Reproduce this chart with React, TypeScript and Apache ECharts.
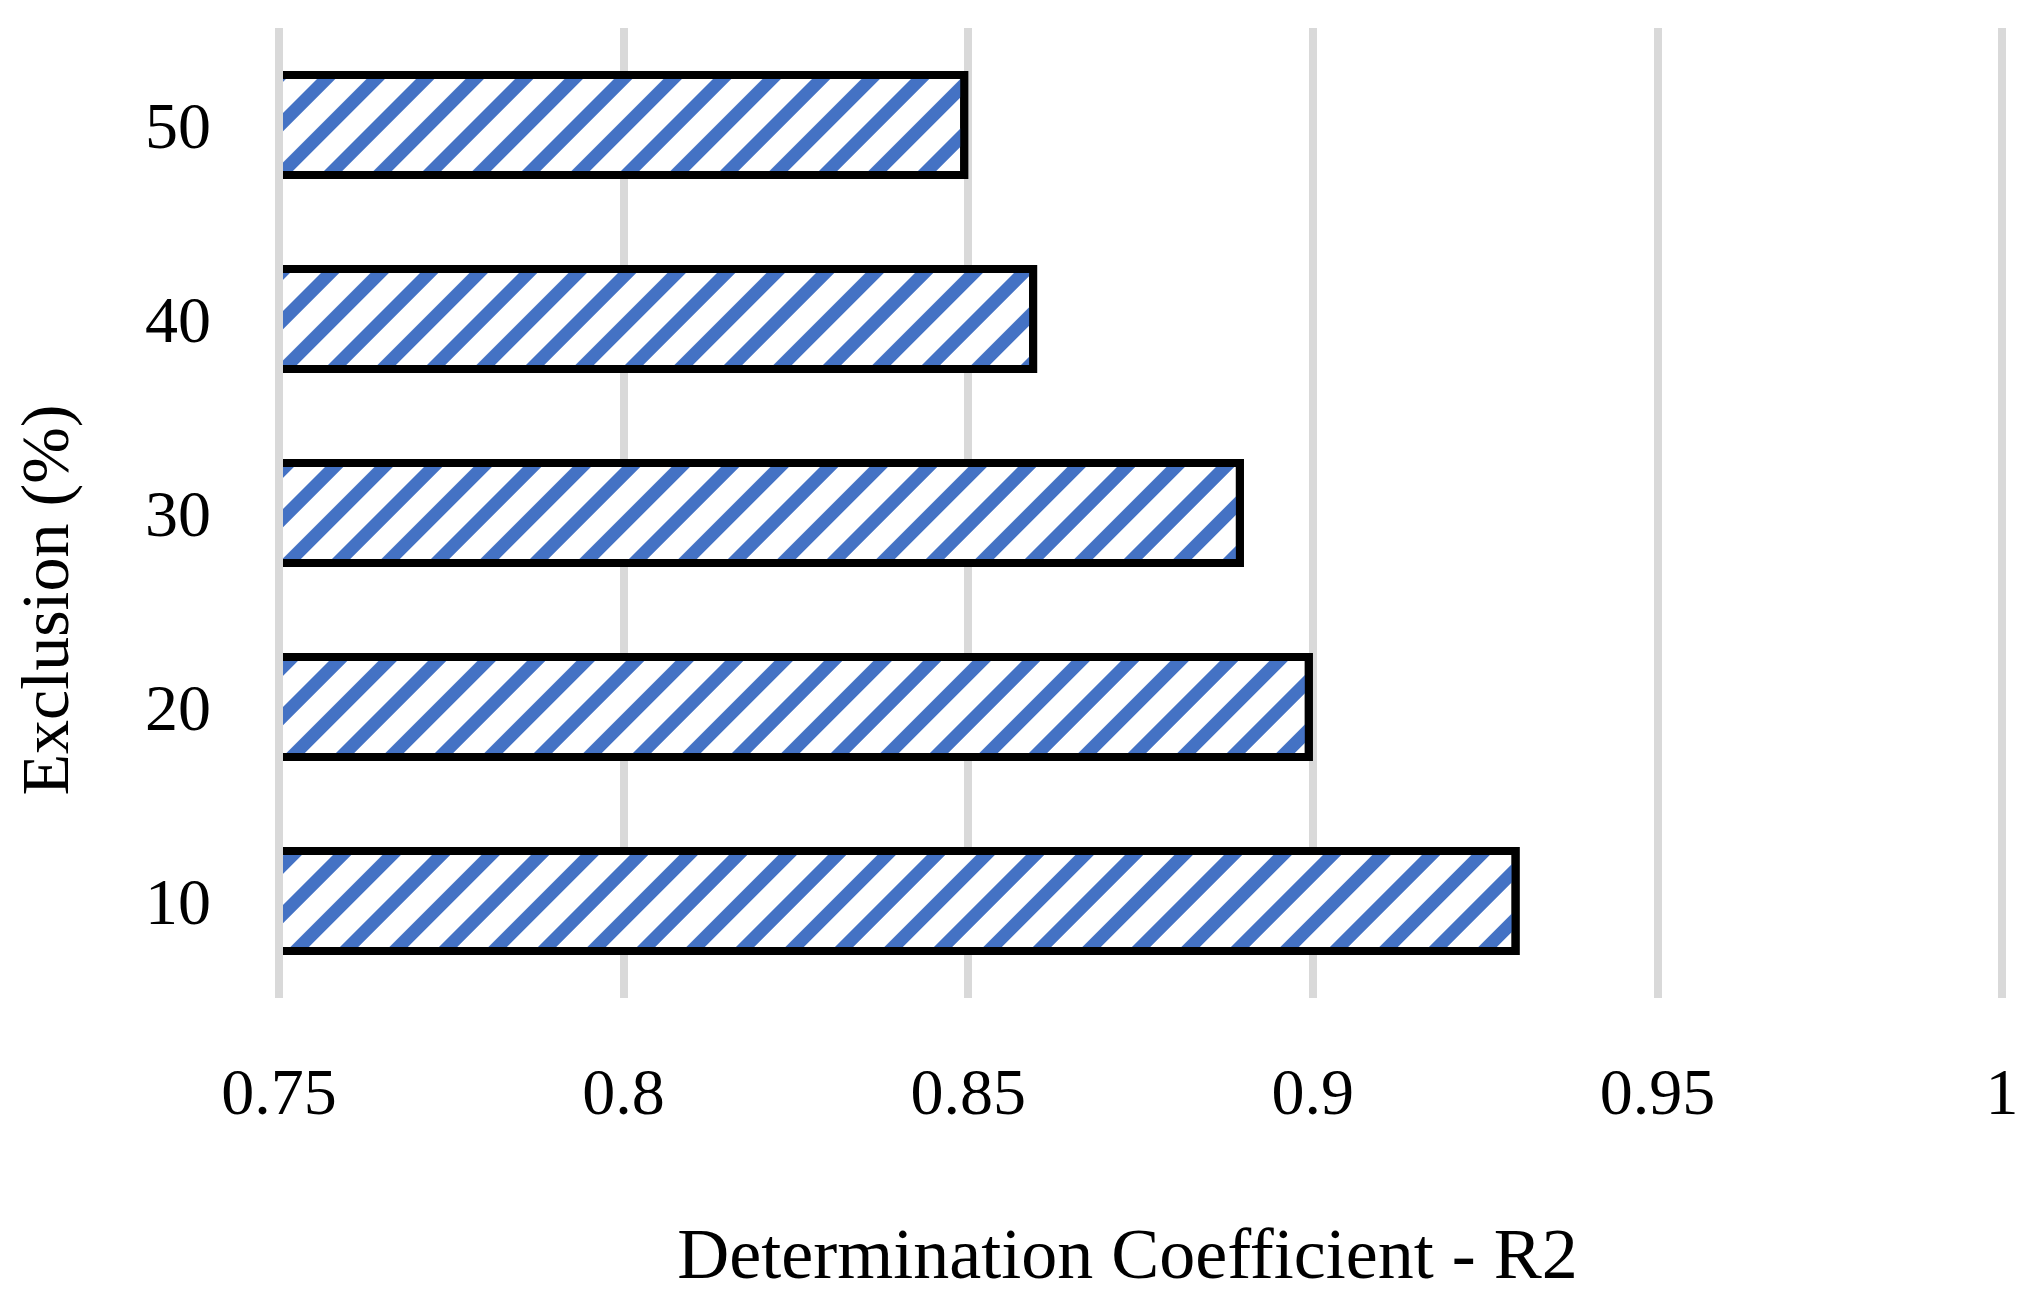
import React, { useEffect, useRef } from "react";
import * as echarts from "echarts";

const categories = ["10", "20", "30", "40", "50"];
const r2Values = [0.93, 0.9, 0.89, 0.86, 0.85];
const xTickLabels = ["0.75", "0.8", "0.85", "0.9", "0.95", "1"];
const xMin = 0.75;
const xMax = 1;
const xStep = 0.05;

const FONT = '"Liberation Serif", "Times New Roman", serif';

export default function App() {
  const ref = useRef<HTMLDivElement>(null);

  useEffect(() => {
    if (!ref.current) return;
    const chart = echarts.init(ref.current, null, { renderer: "svg" });
    chart.setOption({
      animation: false,
      backgroundColor: "#ffffff",
      grid: { left: 279, right: 42, top: 28, bottom: 304, containLabel: false },
      xAxis: [
        {
          type: "value",
          min: xMin,
          max: xMax,
          interval: xStep,
          axisLine: { show: false },
          axisTick: { show: false },
          splitLine: { show: true, lineStyle: { color: "#D9D9D9", width: 8 } },
          axisLabel: {
            margin: 60,
            fontSize: 66,
            fontFamily: FONT,
            color: "#000",
            formatter: (v: number) => xTickLabels[Math.round((v - xMin) / xStep)] ?? "",
          },
          name: "Determination Coefficient - R2",
          nameLocation: "middle",
          nameGap: 220,
          nameTextStyle: { fontSize: 72, fontFamily: FONT, color: "#000", padding: [0, 26, 0, 0] },
        },
        {
          type: "value",
          position: "top",
          min: xMin,
          max: xMax,
          interval: xMax - xMin,
          z: 10,
          axisLine: { show: false },
          axisTick: { show: false },
          axisLabel: { show: false },
          splitLine: {
            show: true,
            showMinLine: true,
            showMaxLine: false,
            lineStyle: { color: "#D9D9D9", width: 8 },
          },
        },
      ],
      yAxis: {
        type: "category",
        data: categories,
        axisLine: { show: false },
        axisTick: { show: false },
        axisLabel: { margin: 68, fontSize: 66, fontFamily: FONT, color: "#000" },
      },
      graphic: [
        {
          type: "text",
          x: 45,
          y: 600,
          rotation: Math.PI / 2,
          style: {
            text: "Exclusion (%)",
            font: `68px ${FONT}`,
            fill: "#000",
            textAlign: "center",
            textVerticalAlign: "middle",
          },
        },
      ],
      series: [
        {
          type: "bar",
          data: r2Values,
          barWidth: 108,
          itemStyle: {
            color: "#ffffff",
            borderColor: "#000000",
            borderWidth: 8,
            decal: {
              symbol: "rect",
              symbolSize: 1,
              color: "#4472C4",
              dashArrayX: [1, 0],
              dashArrayY: [13, 22],
              rotation: -Math.PI / 4,
            },
          },
        },
      ],
    });
    return () => chart.dispose();
  }, []);

  return (
    <div
      ref={ref}
      style={{ position: "fixed", left: 0, top: 0, width: 2044, height: 1302, background: "#fff" }}
    />
  );
}
